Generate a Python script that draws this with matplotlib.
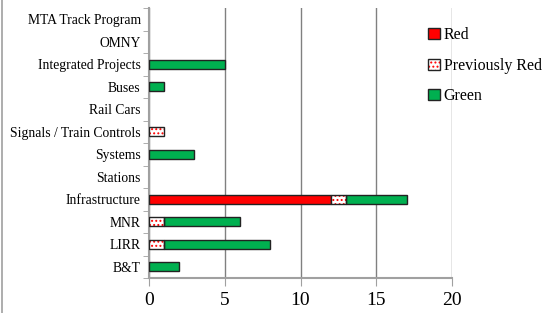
import matplotlib.pyplot as plt
from matplotlib.patches import Patch
from matplotlib.lines import Line2D
import numpy as np

categories = ['B&T', 'LIRR', 'MNR', 'Infrastructure', 'Stations', 'Systems',
              'Signals / Train Controls', 'Rail Cars', 'Buses',
              'Integrated Projects', 'OMNY', 'MTA Track Program']
red = [0, 0, 0, 12, 0, 0, 0, 0, 0, 0, 0, 0]
prev_red = [0, 1, 1, 1, 0, 0, 1, 0, 0, 0, 0, 0]
green = [2, 7, 5, 4, 0, 3, 0, 0, 1, 5, 0, 0]

plt.rcParams['font.family'] = ['Liberation Serif', 'DejaVu Serif']
plt.rcParams['hatch.linewidth'] = 0.9

GREEN = '#00B050'
RED = '#FF0000'
EDGE = '#222222'
HATCH = '....'

fig = plt.figure(figsize=(5.42, 3.13), dpi=100)
ax = fig.add_axes([149 / 542, 1 - 278 / 313, (452 - 149) / 542, 270 / 313])

y = np.arange(len(categories))
red = np.array(red)
prev_red = np.array(prev_red)
green = np.array(green)
h = 0.42


def bars(width, left, **kw):
    m = width > 0
    ax.barh(y[m], width[m], h, left=left[m], **kw)


zero = np.zeros_like(red)
bars(red, zero, color=RED, edgecolor=EDGE, linewidth=1, zorder=3)
bars(prev_red, red, color='white', edgecolor=RED, hatch=HATCH, linewidth=0, zorder=3)
bars(prev_red, red, fill=False, edgecolor=EDGE, linewidth=1, zorder=4)
bars(green, red + prev_red, color=GREEN, edgecolor=EDGE, linewidth=1, zorder=3)

ax.set_xlim(0, 20)
ax.set_ylim(-0.5, len(categories) - 0.5)
ax.set_xticks([0, 5, 10, 15, 20])
ax.set_yticks(y, labels=categories, fontsize=9.8)
ax.set_yticks(np.arange(-0.5, len(categories), 1), minor=True)
ax.tick_params(axis='y', which='major', length=0, pad=6)
ax.tick_params(axis='y', which='minor', length=4, color='#A0A0A0')
ax.tick_params(axis='x', length=6, color='#A0A0A0', labelsize=14, pad=4)

ax.grid(axis='x', color='#808080', linewidth=1, zorder=0)
for s in ['top', 'right']:
    ax.spines[s].set_visible(False)
for s in ['left', 'bottom']:
    ax.spines[s].set_color('#A0A0A0')
    ax.spines[s].set_linewidth(1.5)

handles = [Patch(facecolor=RED, edgecolor=EDGE),
           (Patch(facecolor='white', edgecolor=RED, hatch=HATCH, linewidth=0),
            Patch(fill=False, edgecolor=EDGE)),
           Patch(facecolor=GREEN, edgecolor=EDGE)]
fig.legend(handles, ['Red', 'Previously Red', 'Green'],
           loc='upper left', bbox_to_anchor=(422 / 542, 1 - 21 / 313),
           frameon=False, fontsize=11.5, handlelength=0.7, handleheight=0.7,
           handletextpad=0.25, labelspacing=0.9, borderaxespad=0)

fig.add_artist(Line2D([0.003, 0.003], [0, 1], color='#A0A0A0', linewidth=1.2,
                      transform=fig.transFigure))

fig.savefig('out.png', dpi=100)
